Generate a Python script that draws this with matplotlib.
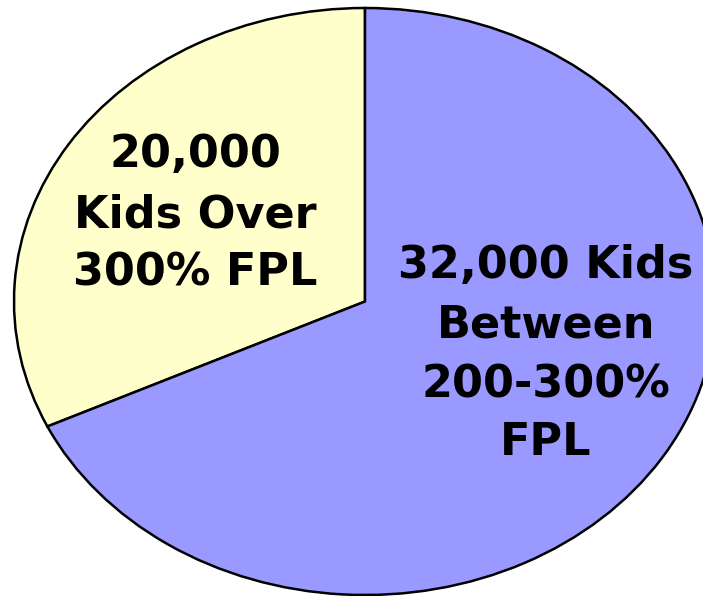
import matplotlib
matplotlib.use("Agg")
import matplotlib.pyplot as plt

categories = ["Kids Over 300% FPL", "Kids Between 200-300% FPL"]
slice_shares = [32, 68]
colors = ["#FFFFCC", "#9999FF"]
label_lines_left = ["20,000", "Kids Over", "300% FPL"]
label_lines_right = ["32,000 Kids", "Between", "200-300%", "FPL"]

W, H = 703, 596
fig = plt.figure(figsize=(W / 100, H / 100), dpi=100)
fig.patch.set_facecolor("white")
ax = fig.add_axes([0, 0, 1, 1])

ax.pie(slice_shares, colors=colors, startangle=90, counterclock=True,
       radius=1.0, center=(0, 0),
       wedgeprops=dict(edgecolor="black", linewidth=1.8))
ax.set_aspect("auto")
cx, cy, rx, ry = 365, 301.5, 351, 293.5
ax.set_xlim(-cx / rx, (W - cx) / rx)
ax.set_ylim(-(H - cy) / ry, cy / ry)
ax.axis("off")

font = dict(family="DejaVu Sans", weight="bold", size=32, color="black")

left_x = 195
left_baselines = [167, 227, 285]
for txt, yb in zip(label_lines_left, left_baselines):
    fig.text(left_x / W, 1 - yb / H, txt, ha="center", va="baseline", **font)

right_x = 546
right_baselines = [278, 338, 397, 455]
for txt, yb in zip(label_lines_right, right_baselines):
    fig.text(right_x / W, 1 - yb / H, txt, ha="center", va="baseline", **font)

fig.savefig("out.png", dpi=100)
